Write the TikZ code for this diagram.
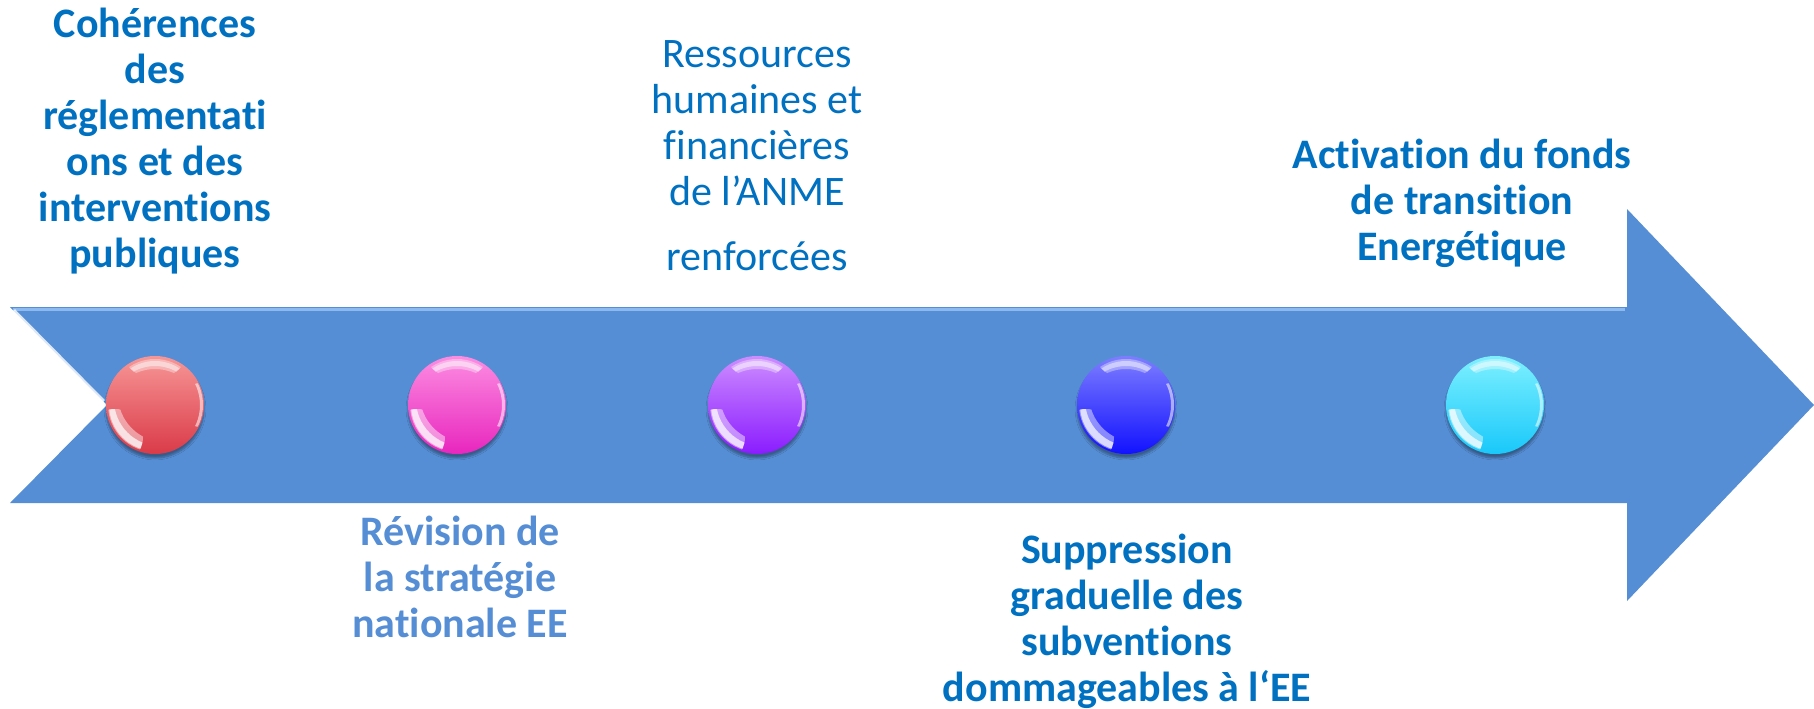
\documentclass[tikz,border=0pt]{standalone}
\usepackage{fontspec}
\setmainfont{Carlito}[Ligatures=NoCommon]
\usetikzlibrary{calc,shadows.blur}
\definecolor{arrowblue}{RGB}{85,142,213}
\definecolor{bevelblue}{RGB}{140,185,240}
\definecolor{txtblue}{RGB}{0,112,192}
\definecolor{lightblue}{RGB}{85,142,213}
\definecolor{redT}{RGB}{247,150,150}\definecolor{redB}{RGB}{218,58,72}
\definecolor{pinkT}{RGB}{252,140,225}\definecolor{pinkB}{RGB}{232,38,190}
\definecolor{purpT}{RGB}{205,140,255}\definecolor{purpB}{RGB}{138,28,255}
\definecolor{bluT}{RGB}{125,125,255}\definecolor{bluB}{RGB}{18,18,255}
\definecolor{cyaT}{RGB}{125,240,255}\definecolor{cyaB}{RGB}{25,200,250}
\tikzset{
  label/.style={align=center, anchor=base, inner sep=0pt, font=\fontsize{42}{46}\selectfont},
  boldlabel/.style={label, font=\fontsize{42}{46}\selectfont\bfseries, text=txtblue},
  ball/.style={circle, minimum size=98pt, inner sep=0pt, draw=none,
    blur shadow={shadow xshift=0pt, shadow yshift=-4pt, shadow opacity=35, shadow blur steps=6},
    path picture={
      \coordinate (pc) at (path picture bounding box.center);
      \begin{scope}
        \clip ($(pc)+(0,-49)$) ellipse [x radius=30, y radius=22];
        \fill[white, opacity=.35, even odd rule] (pc) circle (46) ($(pc)+(0,10)$) circle (46);
        \fill[white, opacity=.45, even odd rule] (pc) circle (44) ($(pc)+(0,5)$) circle (44);
      \end{scope}
      \begin{scope}
        \clip ($(pc)+(-40,32)$) circle (28);
        \fill[white, opacity=.45, even odd rule] (pc) circle (47) ($(pc)+(10,-10)$) circle (47);
        \fill[white, opacity=.7, even odd rule] (pc) circle (46) ($(pc)+(5,-5)$) circle (46);
      \end{scope}
      \begin{scope}
        \clip ($(pc)+(46,0)$) circle (22);
        \fill[white, opacity=.55, even odd rule] (pc) circle (48) ($(pc)+(-3,0)$) circle (48);
      \end{scope}
    }},
}
\begin{document}
\begin{tikzpicture}[x=1pt,y=-1pt]
\useasboundingbox (0,0) rectangle (1814,709);
% main arrow
\fill[arrowblue] (10,307) -- (1627,307) -- (1627,209) -- (1814,405) -- (1627,601)
  -- (1627,503) -- (10,503) -- (107,405) -- cycle;
% bevel highlights
\draw[bevelblue, line width=3pt] (13,309) -- (1625,309);
\draw[white, opacity=.8, line width=2.5pt] (14,310) -- (104,401);
% spheres
\node[ball, top color=redT, bottom color=redB] (b1) at (155,405) {};
\node[ball, top color=pinkT, bottom color=pinkB] (b2) at (457,405) {};
\node[ball, top color=purpT, bottom color=purpB] (b3) at (757,405) {};
\node[ball, top color=bluT, bottom color=bluB] (b4) at (1126,405) {};
\node[ball, top color=cyaT, bottom color=cyaB] (b5) at (1495,405) {};
% labels (base anchor = baseline of the last line)
\node[boldlabel] (t1) at (155,267) {Cohérences\\des\\réglementati\\ons et des\\interventions\\publiques};
\node[label, text=txtblue] (t2) at (757,270) {Ressources\\humaines et\\financières\\de l’ANME\\[19pt]renforcées};
\node[boldlabel] (t3) at (1462,260) {Activation du fonds\\de transition\\Energétique};
\node[boldlabel, text=lightblue] (t4) at (460,637) {Révision de\\la stratégie\\nationale EE};
\node[boldlabel] (t5) at (1127,701) {Suppression\\graduelle des\\subventions\\dommageables à l‘EE};
\end{tikzpicture}
\end{document}
